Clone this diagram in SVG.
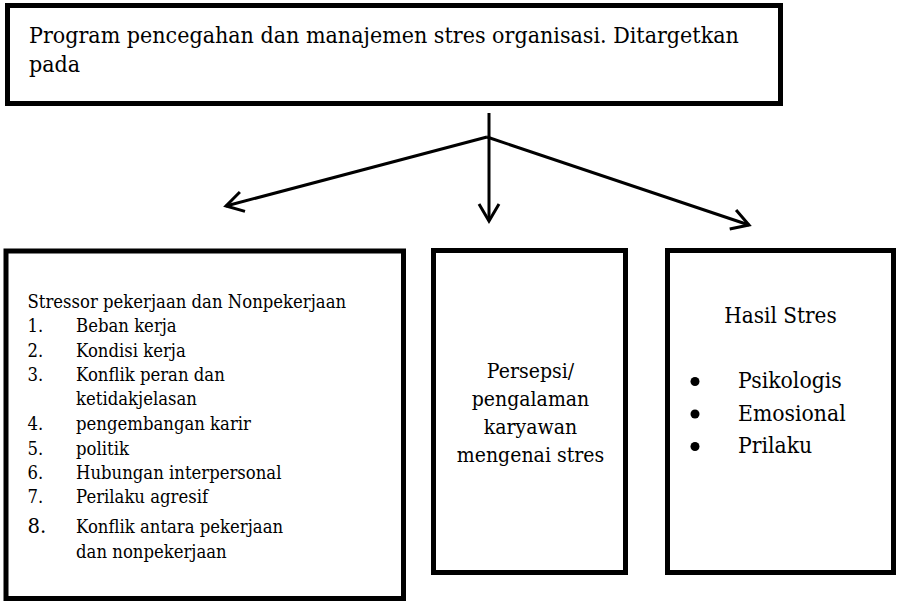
<svg xmlns="http://www.w3.org/2000/svg" width="900" height="602" viewBox="0 0 900 602">
  <style>
    .box { fill: #ffffff; stroke: #000000; stroke-width: 5; }
    .t { font-family: 'DejaVu Serif', 'Liberation Serif', serif; fill: #000000; }
    .link { fill: none; stroke: #000000; stroke-width: 3; }
  </style>
  <defs>
    <marker id="head" viewBox="-19 -12 22 24" refX="0" refY="0" markerWidth="22" markerHeight="24" markerUnits="userSpaceOnUse" orient="auto">
      <path d="M -17 -10 L 0 0 L -17 10" fill="none" stroke="#000000" stroke-width="3"/>
    </marker>
  </defs>

  <rect width="900" height="602" fill="#ffffff"/>

  <!-- Top: programme box (text narrowed slightly to a book-face width) -->
  <g id="program">
    <rect class="box" x="7.5" y="5.5" width="773" height="98"/>
    <g class="t" font-size="22.3" transform="translate(29 0) scale(0.927 1)">
      <text x="0" y="43">Program pencegahan dan manajemen stres organisasi. Ditargetkan</text>
      <text x="0" y="72">pada</text>
    </g>
  </g>

  <!-- Connectors fanning out to the three targets -->
  <g id="connectors">
    <line class="link" x1="489" y1="113" x2="489" y2="221" marker-end="url(#head)"/>
    <line class="link" x1="487" y1="137" x2="226" y2="206" marker-end="url(#head)"/>
    <line class="link" x1="487" y1="137" x2="749" y2="225" marker-end="url(#head)"/>
  </g>

  <!-- Left: stressors -->
  <g id="stressor">
    <rect class="box" x="6" y="251" width="397.5" height="347.5"/>
    <g class="t" font-size="17.6" transform="translate(27.5 0) scale(0.937 1)">
      <text x="0" y="308">Stressor pekerjaan dan Nonpekerjaan</text>
      <text x="0" y="332">1.</text><text x="51.8" y="332">Beban kerja</text>
      <text x="0" y="357">2.</text><text x="51.8" y="357">Kondisi kerja</text>
      <text x="0" y="381">3.</text><text x="51.8" y="381">Konflik peran dan</text>
      <text x="51.8" y="405">ketidakjelasan</text>
      <text x="0" y="430">4.</text><text x="51.8" y="430">pengembangan karir</text>
      <text x="0" y="455">5.</text><text x="51.8" y="455">politik</text>
      <text x="0" y="479">6.</text><text x="51.8" y="479">Hubungan interpersonal</text>
      <text x="0" y="503">7.</text><text x="51.8" y="503">Perilaku agresif</text>
      <text x="0" y="533" font-size="21">8.</text><text x="51.8" y="533">Konflik antara pekerjaan</text>
      <text x="51.8" y="558">dan nonpekerjaan</text>
    </g>
  </g>

  <!-- Middle: perception -->
  <g id="persepsi">
    <rect class="box" x="433.5" y="250.5" width="192" height="322"/>
    <g class="t" font-size="20.2" text-anchor="middle" transform="translate(530.5 0) scale(0.937 1)">
      <text x="0" y="378">Persepsi/</text>
      <text x="0" y="406">pengalaman</text>
      <text x="0" y="434">karyawan</text>
      <text x="0" y="462">mengenai stres</text>
    </g>
  </g>

  <!-- Right: outcomes -->
  <g id="hasil">
    <rect class="box" x="667.5" y="250.5" width="226" height="322"/>
    <g class="t" font-size="21.4" text-anchor="middle" transform="translate(780.5 0) scale(0.937 1)">
      <text x="0" y="323">Hasil Stres</text>
    </g>
    <circle cx="695" cy="381.5" r="4.5" fill="#000000"/>
    <circle cx="695" cy="414" r="4.5" fill="#000000"/>
    <circle cx="695" cy="446.5" r="4.5" fill="#000000"/>
    <g class="t" font-size="21.8" transform="translate(738 0) scale(0.937 1)">
      <text x="0" y="388.5">Psikologis</text>
      <text x="0" y="421.5">Emosional</text>
      <text x="0" y="453.5">Prilaku</text>
    </g>
  </g>
</svg>
